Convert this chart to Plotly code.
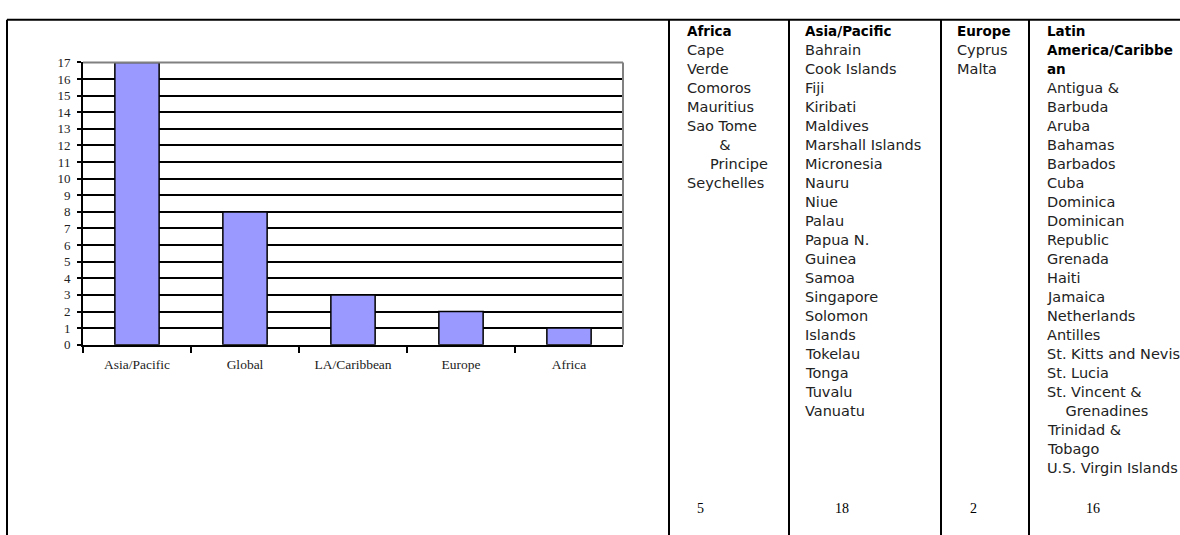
import plotly.graph_objects as go

W, H = 1180, 560  # figure slightly taller than the window; the extra is clipped

# ---- bar chart data ----
regions = ["Asia/Pacific", "Global", "LA/Caribbean", "Europe", "Africa"]
counts = [17, 8, 3, 2, 1]
y_ticks = list(range(0, 18))

# ---- table data ----
table_headers = [["Africa"], ["Asia/Pacific"], ["Europe"], ["Latin", "America/Caribbe", "an"]]
africa_lines = ["Cape", "Verde", "Comoros", "Mauritius", "Sao Tome",
                "\u00a0" * 7 + "&", "\u00a0" * 5 + "Principe", "Seychelles"]
asia_lines = ["Bahrain", "Cook Islands", "Fiji", "Kiribati", "Maldives",
              "Marshall Islands", "Micronesia", "Nauru", "Niue", "Palau",
              "Papua N.", "Guinea", "Samoa", "Singapore", "Solomon", "Islands",
              "Tokelau", "Tonga", "Tuvalu", "Vanuatu"]
europe_lines = ["Cyprus", "Malta"]
latin_lines = ["Antigua &", "Barbuda", "Aruba", "Bahamas", "Barbados", "Cuba",
               "Dominica", "Dominican", "Republic", "Grenada", "Haiti", "Jamaica",
               "Netherlands", "Antilles", "St. Kitts and Nevis", "St. Lucia",
               "St. Vincent &", "\u00a0" * 4 + "Grenadines", "Trinidad &", "Tobago",
               "U.S. Virgin Islands"]
table_columns = [africa_lines, asia_lines, europe_lines, latin_lines]
table_totals = ["5", "18", "2", "16"]

# ---- layout geometry (pixels from top-left) ----
col_text_x = [685, 803, 955, 1045]
col_total_x = [700, 842, 973, 1093]
dividers_x = [669, 789, 941, 1029]
frame_left, frame_top = 7, 13
row0_y, row_step = 25, 19.5
totals_y = 515
plot_left, plot_right, plot_top, plot_bottom = 83, 623, 57, 347

def px(x):
    return x / W

def py(y):
    return 1 - y / H

fig = go.Figure()
fig.add_trace(go.Bar(
    x=regions, y=counts, width=0.41,
    marker=dict(color="#9999FF", line=dict(color="black", width=1.5)),
    showlegend=False, hoverinfo="x+y",
))

shapes = []
# plot frame (gray top and right)
shapes.append(dict(type="line", xref="x domain", yref="y domain", x0=0, x1=1, y0=1, y1=1,
                   line=dict(color="#808080", width=2), layer="above"))
shapes.append(dict(type="line", xref="x domain", yref="y domain", x0=1, x1=1, y0=0, y1=1,
                   line=dict(color="#808080", width=2), layer="above"))
# outer frame lines
shapes.append(dict(type="line", xref="paper", yref="paper", x0=px(frame_left), x1=1.0,
                   y0=py(frame_top), y1=py(frame_top), line=dict(color="black", width=2)))
shapes.append(dict(type="line", xref="paper", yref="paper", x0=px(frame_left), x1=px(frame_left),
                   y0=py(frame_top), y1=0, line=dict(color="black", width=2)))
for dx in dividers_x:
    shapes.append(dict(type="line", xref="paper", yref="paper", x0=px(dx), x1=px(dx),
                       y0=py(frame_top), y1=0, line=dict(color="black", width=2)))

annotations = []
for ci, (hdr, lines) in enumerate(zip(table_headers, table_columns)):
    row = 0
    for h in hdr:
        annotations.append(dict(xref="paper", yref="paper", x=px(col_text_x[ci]),
                                y=py(row0_y + row_step * row), text="<b>" + h + "</b>",
                                showarrow=False, xanchor="left", yanchor="middle",
                                font=dict(family="DejaVu Sans", size=13.5, color="black")))
        row += 1
    for ln in lines:
        annotations.append(dict(xref="paper", yref="paper", x=px(col_text_x[ci]),
                                y=py(row0_y + row_step * row), text=ln,
                                showarrow=False, xanchor="left", yanchor="middle",
                                font=dict(family="DejaVu Sans", size=14.5, color="#222222")))
        row += 1
    annotations.append(dict(xref="paper", yref="paper", x=px(col_total_x[ci]),
                            y=py(totals_y), text=table_totals[ci], showarrow=False,
                            xanchor="center", yanchor="middle",
                            font=dict(family="Liberation Serif", size=14, color="black")))

fig.update_layout(
    width=W, height=H,
    margin=dict(l=0, r=0, t=0, b=0),
    paper_bgcolor="white", plot_bgcolor="white",
    xaxis=dict(domain=[px(plot_left), px(plot_right)], type="category", range=[-0.5, 4.5],
               tickson="boundaries", ticks="outside", ticklen=6, tickwidth=1.5,
               tickcolor="black", showline=True, linecolor="black", linewidth=2,
               showgrid=False, ticklabelstandoff=6,
               tickfont=dict(family="Liberation Serif", size=13.5, color="#222222"),
               fixedrange=True),
    yaxis=dict(domain=[py(plot_bottom), py(plot_top)], range=[0, 17], tickmode="array",
               tickvals=y_ticks,
               ticks="outside", ticklen=4, tickwidth=1.5, tickcolor="black",
               showline=True, linecolor="black", linewidth=2,
               showgrid=True, gridcolor="black", gridwidth=1.5, zeroline=False,
               ticklabelstandoff=4,
               tickfont=dict(family="Liberation Serif", size=13, color="#222222"),
               fixedrange=True),
    shapes=shapes,
    annotations=annotations,
)

fig.write_html("out.html", config={"displayModeBar": False},
               post_script="document.body.style.margin='0';document.body.style.overflow='hidden';")
